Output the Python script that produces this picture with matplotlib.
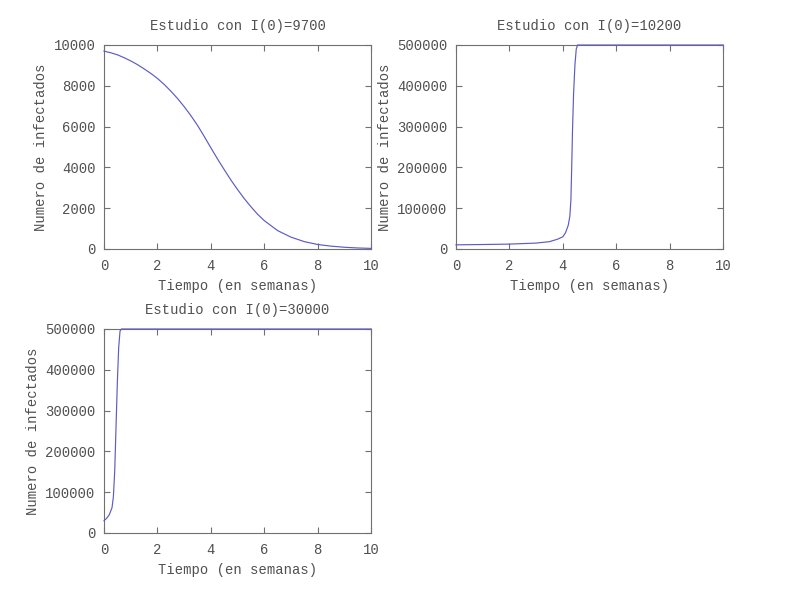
import matplotlib
matplotlib.use('Agg')
import matplotlib.pyplot as plt

plt.rcParams['font.family'] = ['Liberation Mono', 'DejaVu Sans Mono']
plt.rcParams['font.size'] = 10
plt.rcParams['text.color'] = '#505050'

# Data
t1 = [0, 0.25, 0.5, 0.75, 1, 1.25, 1.5, 1.75, 2, 2.25, 2.5, 2.75, 3, 3.25, 3.5,
      3.75, 4, 4.25, 4.5, 4.75, 5, 5.25, 5.5, 5.75, 6, 6.5, 7, 7.5, 8, 8.5, 9, 9.5, 10]
i1 = [9700, 9620, 9520, 9380, 9220, 9040, 8830, 8610, 8360, 8070, 7740, 7380,
      6980, 6540, 6060, 5520, 4960, 4410, 3890, 3380, 2910, 2470, 2070, 1700,
      1390, 900, 580, 360, 220, 140, 85, 50, 30]

t2 = [0, 1, 2, 3, 3.5, 3.8, 4.0, 4.1, 4.2, 4.26, 4.3, 4.33, 4.36, 4.4, 4.45, 4.5, 4.55, 10]
i2 = [10200, 11000, 12000, 14500, 18000, 24000, 30000, 40000, 58000, 80000,
      120000, 200000, 290000, 380000, 450000, 490000, 500000, 500000]

t3 = [0, 0.1, 0.2, 0.3, 0.35, 0.4, 0.45, 0.5, 0.55, 0.6, 0.65, 10]
i3 = [30000, 36000, 45000, 62000, 88000, 150000, 260000, 370000, 455000, 495000, 500000, 500000]

titles = ['Estudio con I(0)=9700', 'Estudio con I(0)=10200', 'Estudio con I(0)=30000']
ymax = [10000, 500000, 500000]
series = [(t1, i1), (t2, i2), (t3, i3)]
positions = [[0.13, 0.585, 0.334, 0.34],
             [0.57, 0.585, 0.334, 0.34],
             [0.13, 0.1117, 0.334, 0.34]]

fig = plt.figure(figsize=(8, 6), dpi=100)

for (t, v), title, ym, pos in zip(series, titles, ymax, positions):
    ax = fig.add_axes(pos)
    ax.plot(t, v, color='#5c5cc4', linewidth=0.85, clip_on=False, zorder=3)
    ax.set_xlim(0, 10)
    ax.set_ylim(0, ym)
    ax.set_xticks(range(0, 11, 2))
    ax.set_yticks([ym * k / 5 for k in range(6)])
    ax.set_yticklabels([str(int(ym * k / 5)) for k in range(6)])
    ax.tick_params(direction='in', top=True, right=True, length=4,
                   color='#707070', labelcolor='#505050', pad=6)
    ax.tick_params(axis='x', pad=7.5)
    for s in ax.spines.values():
        s.set_color('#707070')
        s.set_linewidth(0.8)
    ax.set_title(title, fontsize=10, color='#505050', pad=11)
    ax.set_xlabel('Tiempo (en semanas)', color='#505050')
    ax.set_ylabel('Numero de infectados', color='#505050')

fig.savefig('out.png', dpi=100)
